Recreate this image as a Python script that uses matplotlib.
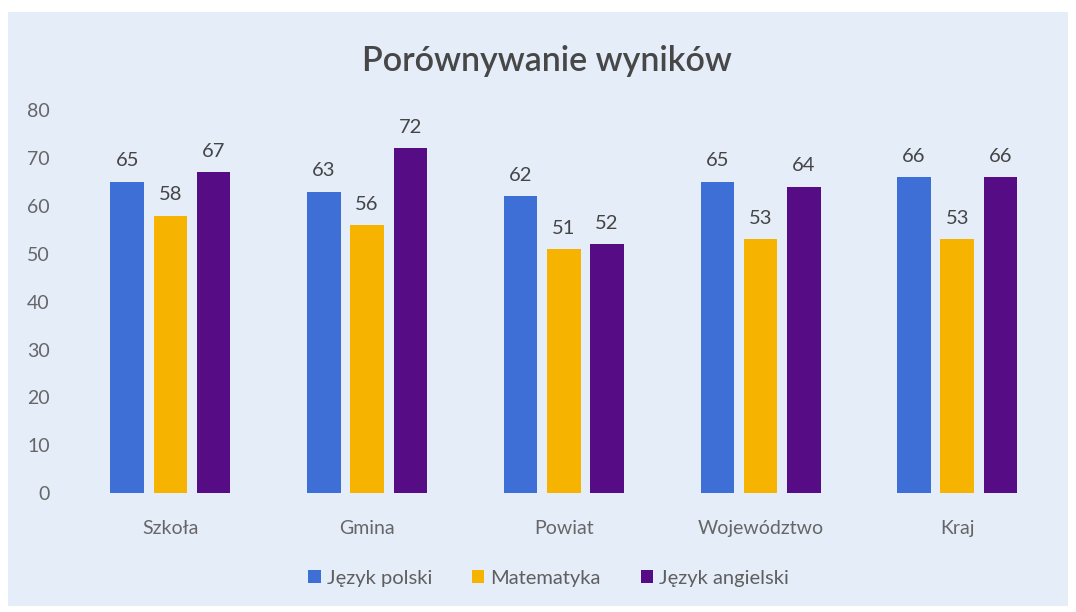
import numpy as np
import matplotlib.pyplot as plt
from matplotlib.patches import Rectangle

kategorie = ['Szkoła', 'Gmina', 'Powiat', 'Województwo', 'Kraj']
polski = [65, 63, 62, 65, 66]
matematyka = [58, 56, 51, 53, 53]
angielski = [67, 72, 52, 64, 66]

serie = ['Język polski', 'Matematyka', 'Język angielski']
kolory = ['#3d6fd6', '#f6b300', '#560c84']

plt.rcParams['font.family'] = ['Lato', 'DejaVu Sans']

fig = plt.figure(figsize=(10.76, 6.12), dpi=100, facecolor='white')
tlo = Rectangle((8 / 1076, 1 - 606 / 612), 1060 / 1076, 594 / 612,
                transform=fig.transFigure, facecolor='#e5edf9', edgecolor='none', zorder=-10)
fig.patches.append(tlo)

ax = fig.add_axes([0.067, 0.194, 0.914, 0.626])
ax.set_facecolor('none')
ax.set_zorder(5)

x = np.arange(len(kategorie))
w = 0.17
off = 0.22
for i, (dane, nazwa, kol) in enumerate(zip([polski, matematyka, angielski], serie, kolory)):
    bars = ax.bar(x + (i - 1) * off, dane, w, color=kol, label=nazwa)
    for b, v in zip(bars, dane):
        ax.annotate(str(v), (b.get_x() + b.get_width() / 2, v), xytext=(0, 9),
                    textcoords='offset points', ha='center', va='bottom',
                    fontsize=14.5, color='#454545')

ax.set_xlim(-0.5, len(kategorie) - 0.5)
ax.set_ylim(0, 80)
ax.set_yticks(range(0, 81, 10))
ax.set_xticks(x)
ax.set_xticklabels(kategorie)
ax.tick_params(axis='both', length=0, labelsize=14, colors='#666666')
ax.tick_params(axis='y', pad=16)
ax.tick_params(axis='x', pad=19)
for s in ax.spines.values():
    s.set_visible(False)

fig.text(0.508, 0.9, 'Porównywanie wyników', ha='center', va='center',
         fontsize=24.5, fontweight='semibold', color='#474747')

fig.legend(loc='center', bbox_to_anchor=(0.51, 0.055), ncol=3, frameon=False,
           fontsize=14.5, handlelength=0.6, handleheight=0.6, handletextpad=0.3,
           columnspacing=2.0, labelcolor='#5f5f5f')

fig.savefig('out.png', dpi=100)
